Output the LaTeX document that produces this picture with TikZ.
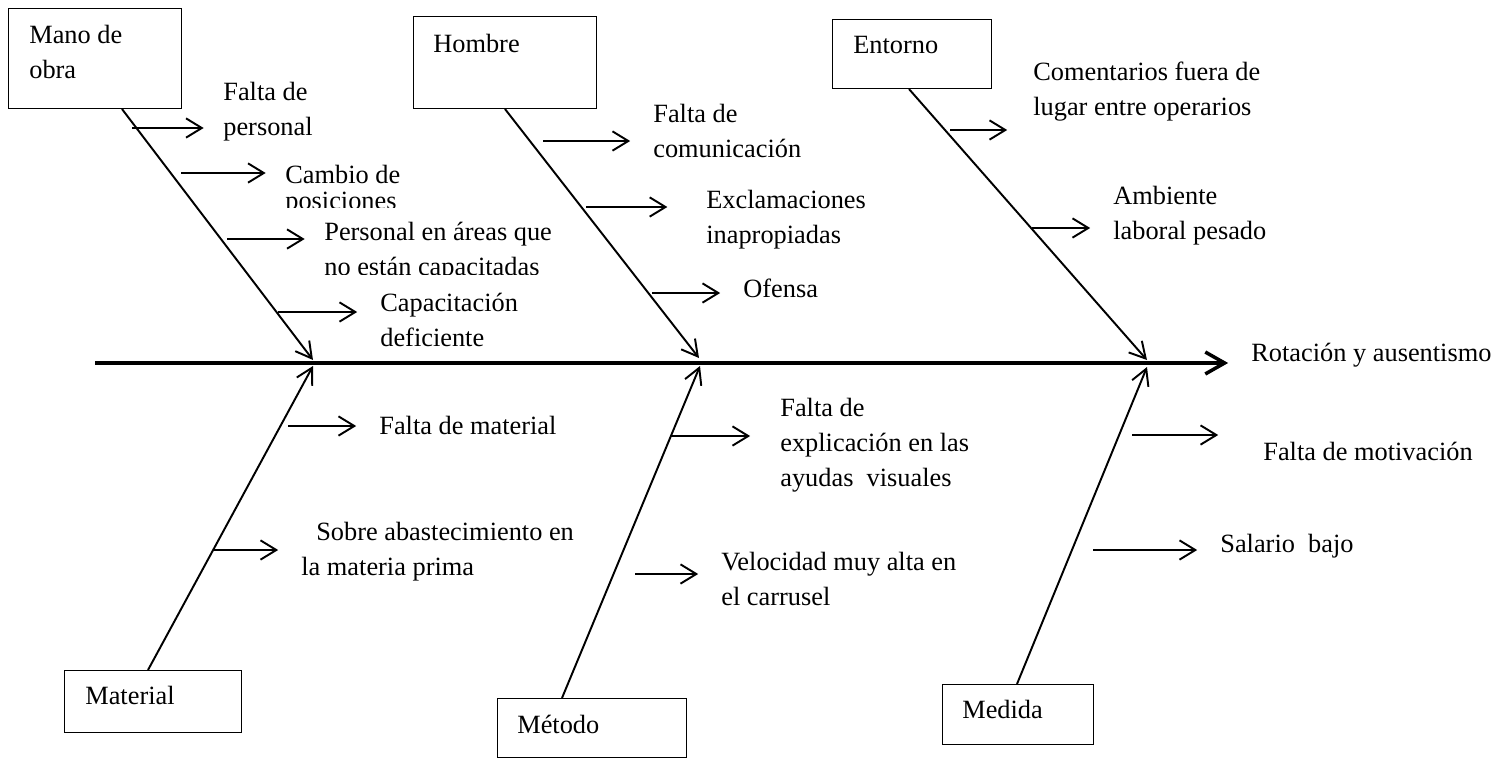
\documentclass[tikz,border=0pt]{standalone}
\usepackage{fontspec}
\setmainfont{Liberation Serif}
\usepackage{tikz}
\usetikzlibrary{positioning,calc,arrows.meta}

\begin{document}
\begin{tikzpicture}[x=0.02cm,y=-0.02cm,
	caja/.style={draw,line width=0.6pt,anchor=north west,inner sep=0pt},
	causa/.style={anchor=base west,inner sep=0pt,align=left,font=\fontsize{15}{19.84}\selectfont},
	espina/.style={line width=1.1pt,-{Straight Barb[length=9pt,width=10pt]}},
	flecha/.style={line width=1.1pt,-{Straight Barb[length=9pt,width=11pt]},shorten >=13pt},
	eje/.style={line width=2pt,-{Straight Barb[length=11pt,width=12.5pt]},shorten >=13pt}]
				\useasboundingbox (0,0) rectangle (1509,758);
				\node[caja,minimum width=3.46cm,minimum height=2cm] (mano) at (8,8) {};
				\node[causa] (manotxt) at ([shift={(21,70)}]mano.north west) {Mano de\\obra};
				\node[caja,minimum width=3.66cm,minimum height=1.84cm] (hombre) at (413,16) {};
				\node[causa] (hombretxt) at ([shift={(20,36)}]hombre.north west) {Hombre};
				\node[caja,minimum width=3.18cm,minimum height=1.38cm] (entorno) at (832,19) {};
				\node[causa] (entornotxt) at ([shift={(21,34)}]entorno.north west) {Entorno};
				\node[caja,minimum width=3.54cm,minimum height=1.24cm] (material) at (64,670) {};
				\node[causa] (materialtxt) at ([shift={(21,34)}]material.north west) {Material};
				\node[caja,minimum width=3.78cm,minimum height=1.18cm] (metodo) at (497,698) {};
				\node[causa] (metodotxt) at ([shift={(20,35)}]metodo.north west) {Método};
				\node[caja,minimum width=3.02cm,minimum height=1.2cm] (medida) at (942,684) {};
				\node[causa] (medidatxt) at ([shift={(20,34)}]medida.north west) {Medida};

				\node[causa] (efecto) at (1251,361) {Rotación y ausentismo};
				\coordinate (inicio) at (95,363);
				\draw[eje] (inicio) -- (inicio -| efecto.west);

				\coordinate (p1) at (313,360);
				\coordinate (p2) at (699,358);
				\coordinate (p3) at (1147,360);
				\coordinate (q1) at (313,366);
				\coordinate (q2) at (700,366);
				\coordinate (q3) at (1147,367);
				\draw[espina] ([shift={(114,0)}]mano.south west) -- (p1);
				\draw[espina] ([shift={(92,0)}]hombre.south west) -- (p2);
				\draw[espina] ([shift={(77,0)}]entorno.south west) -- (p3);
				\draw[espina] ([shift={(84,0)}]material.north west) -- (q1);
				\draw[espina] ([shift={(65,0)}]metodo.north west) -- (q2);
				\draw[espina] ([shift={(75,0)}]medida.north west) -- (q3);

				\node[causa] (c1) at (223,135) {Falta de\\personal};
				\begin{scope}
					\clip (270,140) rectangle (440,207);
					\node[causa] (c2) at (285,209) {Cambio de\\[-5.1pt]posiciones};
				\end{scope}
				\begin{scope}
					\clip (310,215) rectangle (580,274);
					\node[causa] (c3) at (324,275) {Personal en áreas que\\no están capacitadas};
				\end{scope}
				\node[causa] (c4) at (380,346) {Capacitación\\deficiente};
				\node[causa] (c5) at (653,157) {Falta de\\comunicación};
				\node[causa] (c6) at (706,243) {Exclamaciones\\inapropiadas};
				\node[causa] (c7) at (743,297) {Ofensa};
				\node[causa] (c8) at (1033,115) {Comentarios fuera de\\lugar entre operarios};
				\node[causa] (c9) at (1113,239) {Ambiente\\laboral pesado};
				\node[causa] (c10) at (379,434) {Falta de material};
				\node[causa] (c11) at (301,575) {\hspace*{8.5pt}Sobre abastecimiento en\\la materia prima};
				\node[causa] (c12) at (780,486) {Falta de\\explicación en las\\ayudas~ visuales};
				\node[causa] (c13) at (721,605) {Velocidad muy alta en\\el carrusel};
				\node[causa] (c14) at (1263,460) {Falta de motivación};
				\node[causa] (c15) at (1220,552) {Salario~ bajo};

				\coordinate (r1) at (132,128);
				\coordinate (r2) at (181,173);
				\coordinate (r3) at (227,239);
				\coordinate (r4) at (278,312);
				\coordinate (r5) at (543,141);
				\coordinate (r6) at (586,207);
				\coordinate (r7) at (652,293);
				\coordinate (r8) at (950,130);
				\coordinate (r9) at (1032,228);
				\coordinate (r10) at (288,426);
				\coordinate (r11) at (214,550);
				\coordinate (r12) at (671,436);
				\coordinate (r13) at (635,574);
				\coordinate (r14) at (1132,435);
				\coordinate (r15) at (1093,550);
				\draw[flecha,shorten >=11pt] (r1) -- (r1 -| c1.west);
				\draw[flecha,shorten >=11pt] (r2) -- (r2 -| c2.west);
				\draw[flecha,shorten >=11pt] (r3) -- (r3 -| c3.west);
				\draw[flecha] (r4) -- (r4 -| c4.west);
				\draw[flecha] (r5) -- (r5 -| c5.west);
				\draw[flecha,shorten >=22pt] (r6) -- (r6 -| c6.west);
				\draw[flecha] (r7) -- (r7 -| c7.west);
				\draw[flecha,shorten >=14.7pt] (r8) -- (r8 -| c8.west);
				\draw[flecha] (r9) -- (r9 -| c9.west);
				\draw[flecha] (r10) -- (r10 -| c10.west);
				\draw[flecha] (r11) -- (r11 -| c11.west);
				\draw[flecha,shorten >=17pt] (r12) -- (r12 -| c12.west);
				\draw[flecha] (r13) -- (r13 -| c13.west);
				\draw[flecha,shorten >=25.5pt] (r14) -- (r14 -| c14.west);
				\draw[flecha] (r15) -- (r15 -| c15.west);
				\end{tikzpicture}
\end{document}
